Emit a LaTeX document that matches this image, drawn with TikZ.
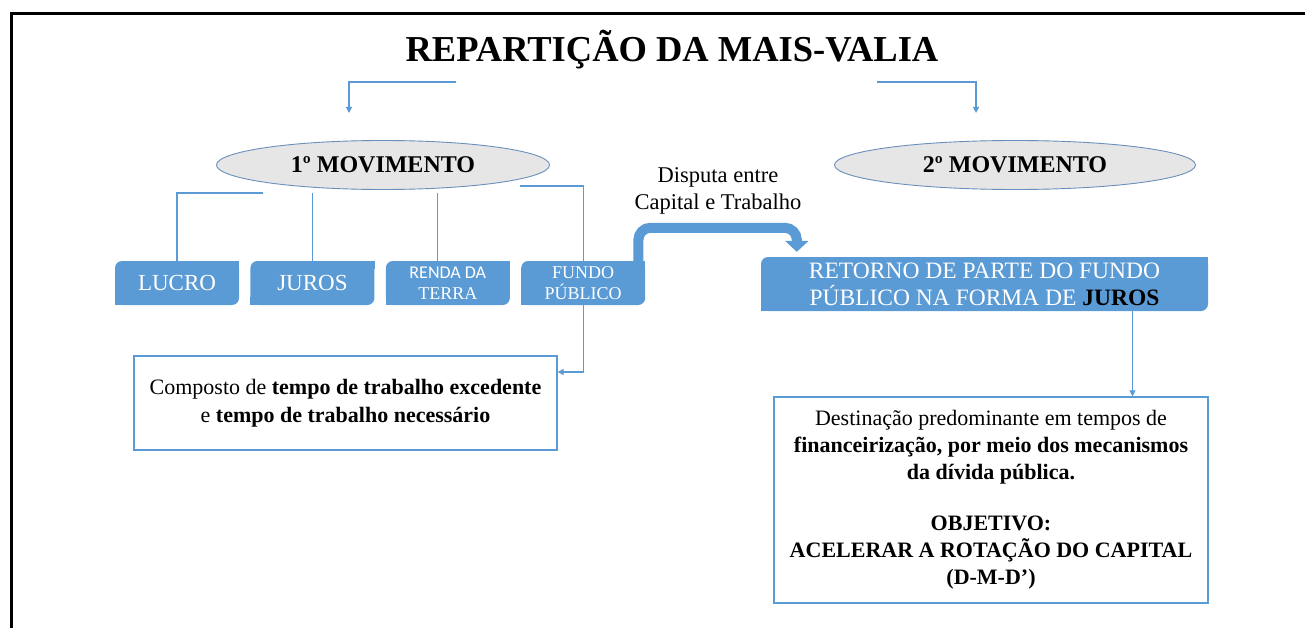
\documentclass[tikz,border=0pt]{standalone}
\usepackage{fontspec}
\setmainfont{Liberation Serif}
\newfontfamily\calibfont{Carlito}
\usetikzlibrary{positioning, arrows.meta, shapes.geometric}

\definecolor{boxblue}{RGB}{91,155,213}
\definecolor{linkblue}{RGB}{91,155,213}
\definecolor{ellgray}{RGB}{231,230,230}
\definecolor{ellline}{RGB}{104,144,186}

\begin{document}
\begin{tikzpicture}[x=1pt, y=-1pt, >={Triangle[width=6pt,length=6pt]},
    link/.style={draw=linkblue, line width=1.2pt},
    move/.style={draw=ellline, fill=ellgray, ellipse, line width=0.9pt, minimum height=49pt, inner sep=0pt, font=\fontsize{24pt}{28pt}\selectfont\bfseries},
    blue box/.style={fill=boxblue, text=white, rounded corners=7pt, minimum width=124pt, minimum height=44pt, inner sep=2pt, align=center},
    textbox/.style={draw=linkblue, line width=1.3pt, fill=white, align=center, inner sep=0pt},
    bigarrow/.style={draw=boxblue, line width=10pt, rounded corners=12pt, -{Triangle[width=23pt,length=11pt]}}]
    \useasboundingbox (0,0) rectangle (1305,628);
    \draw[line width=3pt] (11,628) -- (11,14) -- (1305,14);

    \node[font=\fontsize{36.5pt}{42pt}\selectfont\bfseries] (title) at (672,50) {REPARTIÇÃO DA MAIS-VALIA};

    \node[move, minimum width=333pt] (mov1) at (383,165) {1º MOVIMENTO};
    \node[move, minimum width=361pt] (mov2) at (1015,165) {2º MOVIMENTO};

    \node[blue box, font=\fontsize{23pt}{27pt}\selectfont] (lucro) at (177,283) {LUCRO};
    \node[blue box, font=\fontsize{23pt}{27pt}\selectfont, right=11pt of lucro] (juros) {JUROS};
    \node[blue box, font=\fontsize{18pt}{21pt}\selectfont, right=11pt of juros] (renda) {{\calibfont RENDA DA}\\TERRA};
    \node[blue box, font=\fontsize{18pt}{21pt}\selectfont, right=11pt of renda] (fundo) {FUNDO\\PÚBLICO};

    \node[blue box, minimum width=447pt, minimum height=54pt, font=\fontsize{23.5pt}{27pt}\selectfont] (retorno) at (984.5,284) {RETORNO DE PARTE DO FUNDO\\PÚBLICO NA FORMA DE {\color{black}\bfseries JUROS}};

    \node[textbox, minimum width=423pt, minimum height=94pt, font=\fontsize{22pt}{28pt}\selectfont] (compos) at (345.5,403) {Composto de \textbf{tempo de trabalho excedente}\\e \textbf{tempo de trabalho necessário}};
    \node[textbox, minimum width=434pt, minimum height=206pt, font=\fontsize{22pt}{27pt}\selectfont] (dest) at (991,500) {Destinação predominante em tempos de\\\textbf{financeirização, por meio dos mecanismos}\\\textbf{da dívida pública.}\\[24pt]\textbf{OBJETIVO:}\\\textbf{ACELERAR A ROTAÇÃO DO CAPITAL}\\\textbf{(D-M-D’)}};

    \node[font=\fontsize{22.5pt}{27pt}\selectfont, align=center] (disputa) at (718,191) {Disputa entre\\Capital e Trabalho};

    \foreach \b in {lucro,juros,renda,fundo,retorno} {
      \fill[boxblue] (\b.north east) rectangle ++(-8pt,-8pt);
      \fill[boxblue] (\b.south west) rectangle ++(8pt,8pt);
    }

    \coordinate (t1) at (456,82);
    \coordinate (t2) at (877,82);
    \coordinate (e1) at (349,113);
    \coordinate (e2) at (976,113);
    \draw[link,->] (t1) -| (e1);
    \draw[link,->] (t2) -| (e2);

    \coordinate (c1) at (263,193);
    \coordinate (c2) at (520,186);
    \coordinate (r0) at ([xshift=-10pt]renda.north);
    \draw[link] (c1) -| (lucro.north);
    \draw[link] (juros.north |- c1) -- (juros.north);
    \draw[link] (r0 |- c1) -- (r0);
    \draw[link] (c2) -| (fundo.north);
    \draw[link,->] (fundo.south) |- ([yshift=31pt]compos.east);

    \draw[bigarrow] ([xshift=-7pt]fundo.north east) -- ++(0,-33) -| ([xshift=36pt,yshift=5pt]retorno.north west);

    \coordinate (r1) at ([xshift=148pt]retorno.south);
    \draw[link,->] (r1) -- (r1 |- dest.north);
\end{tikzpicture}
\end{document}
